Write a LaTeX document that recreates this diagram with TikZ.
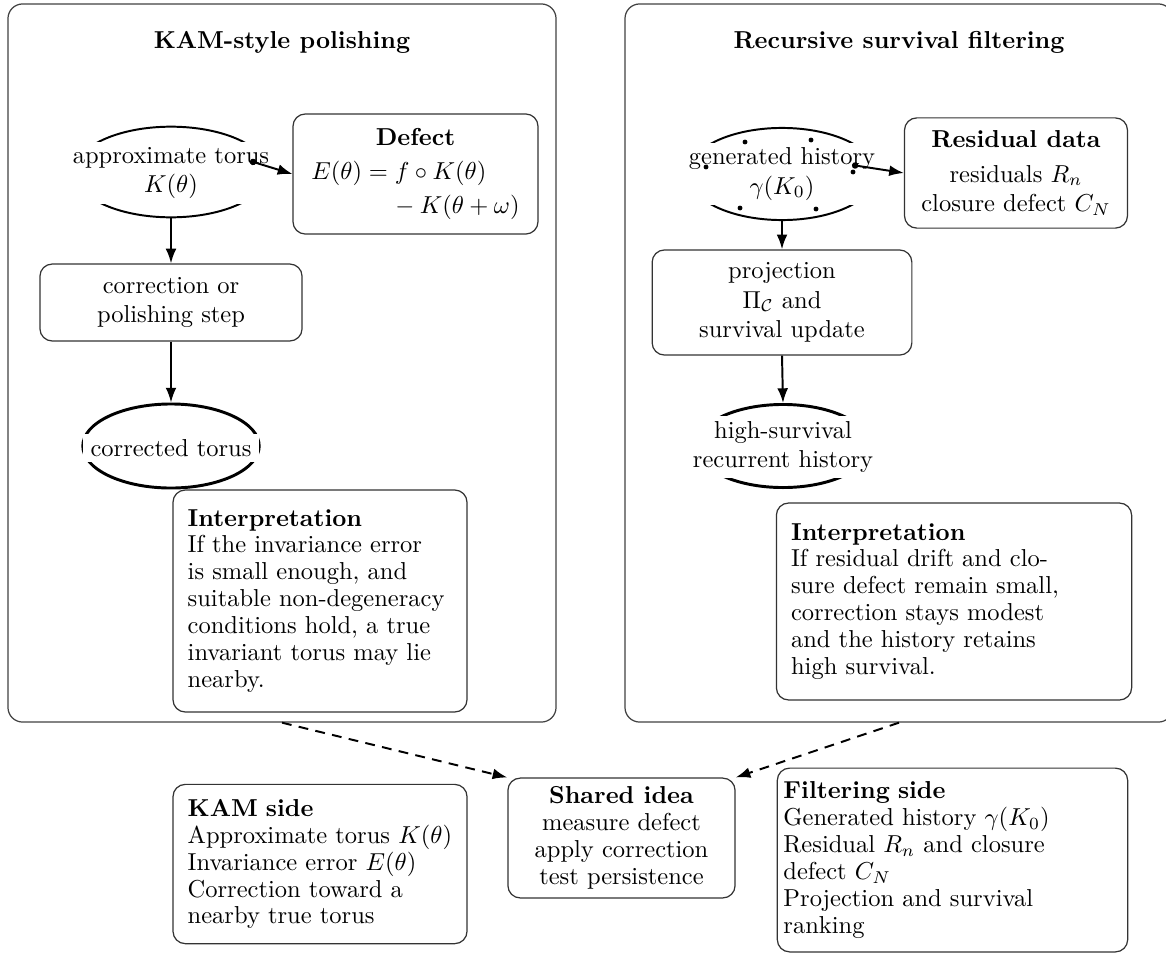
\documentclass[tikz,border=0pt]{standalone}
\usetikzlibrary{shapes.geometric,arrows.meta}
\begin{document}
\begin{tikzpicture}[x=0.40816pt,y=-0.40816pt,
  panel/.style={draw=black!75, line width=0.5pt, rounded corners=6pt,
    minimum width=223.7pt, minimum height=293.1pt, inner sep=0pt},
  box/.style={draw=black!80, line width=0.5pt, rounded corners=5pt,
    align=center, inner sep=3.5pt},
  tight/.style={font=\fontsize{10pt}{11pt}\selectfont},
  notebox/.style={box, tight, align=left, inner xsep=6pt, inner ysep=5pt},
  torus/.style={ellipse, draw, line width=0.8pt, inner sep=0pt},
  boldtorus/.style={torus, line width=1.2pt},
  torustext/.style={fill=white, align=center, inner xsep=3pt, inner ysep=2pt},
  heading/.style={font=\bfseries},
  flow/.style={-{Latex[length=6pt,width=4.4pt]}, line width=0.8pt},
  link/.style={flow, {Circle[length=2.6pt]}-{Latex[length=6pt,width=4.4pt]}},
  relate/.style={flow, dash pattern=on 4pt off 3pt},
]
\useasboundingbox (0,0) rectangle (1166,956);

% the two framed panels
\node[panel] (lp) at (282,363) {};
\node[panel] (rp) at (899,363) {};
\node[heading] (lt) at (282,42) {KAM-style polishing};
\node[heading] (rt) at (899,42) {Recursive survival filtering};

% ---- left panel: KAM-style polishing
\node[torus, minimum width=79pt, minimum height=37pt] (ate) at (171,172) {};
\node[torustext] (att) at (171,173) {approximate torus\\$K(\theta)$};
\path (ate.center) ++(79,-11) coordinate (ateout);

\node[box, minimum width=100pt, minimum height=49pt] (def) at (415.5,174)
  {\textbf{Defect}\\[2pt]
   \makebox[85pt][l]{$E(\theta)=f\circ K(\theta)$}\\[2pt]
   \makebox[85pt][r]{${}-K(\theta+\omega)$}};

\node[box, minimum width=107pt, minimum height=31.4pt] (cor) at (171,302.5)
  {correction or\\polishing step};

\node[boldtorus, minimum width=72pt, minimum height=34.3pt] (cte) at (171,446) {};
\node[torustext] (ctt) at (171,448) {corrected torus};

\node[notebox, text width=108pt, minimum height=90.6pt] (li) at (320,601)
  {\textbf{Interpretation}\\
   If the invariance error\\
   is small enough, and\\
   suitable non-degeneracy\\
   conditions hold, a true\\
   invariant torus may lie\\
   nearby.};

\draw[link] (ateout) -- (def.west);
\draw[flow] (ate.south) -- (cor.north);
\draw[flow] (cor.south) -- (cte.north);

% ---- right panel: recursive survival filtering
\node[torus, minimum width=77pt, minimum height=37.6pt] (ghe) at (782,174) {};
\node[torustext] (ght) at (782,174) {generated history\\$\gamma(K_0)$};
\foreach \dx/\dy in {-37/-32, 29/-34, -76/-7, 71/-2, -42/34, 34/35}
  \fill (ghe.center) ++(\dx,\dy) circle[radius=1pt];
\path (ghe.center) ++(70,-9) coordinate (gheout);

\node[box, minimum width=91pt, minimum height=45pt] (res) at (1016,173)
  {\textbf{Residual data}\\[2pt]residuals $R_n$\\closure defect $C_N$};

\node[box, minimum width=106pt, minimum height=42.9pt] (prj) at (782,302.5)
  {projection\\$\Pi_{\mathcal{C}}$ and\\survival update};

\node[boldtorus, minimum width=71pt, minimum height=33.9pt] (hse) at (783,446) {};
\node[torustext] (hst) at (783,447) {high-survival\\recurrent history};

\node[notebox, text width=133pt, minimum height=80.4pt] (ri) at (954,601.5)
  {\textbf{Interpretation}\\
   If residual drift and clo-\\
   sure defect remain small,\\
   correction stays modest\\
   and the history retains\\
   high survival.};

\draw[link] (gheout) -- (res.west);
\draw[flow] (ghe.south) -- (prj.north);
\draw[flow] (prj.south) -- (hse.north);

% ---- comparison row
\node[notebox, text width=108pt, minimum height=65pt] (ks) at (320,864)
  {\textbf{KAM side}\\
   Approximate torus $K(\theta)$\\
   Invariance error $E(\theta)$\\
   Correction toward a\\
   nearby true torus};

\node[box, tight, minimum width=92.7pt] (sh) at (621.5,838)
  {\textbf{Shared idea}\\measure defect\\apply correction\\test persistence};

\node[notebox, inner xsep=2.5pt, text width=138pt, minimum height=75pt] (fs) at (952.5,860)
  {\textbf{Filtering side}\\
   Generated history $\gamma(K_0)$\\
   Residual $R_n$ and closure\\
   defect $C_N$\\
   Projection and survival\\
   ranking};

\draw[relate] (lp.south) -- (sh.north west);
\draw[relate] (rp.south) -- (sh.north east);
\end{tikzpicture}
\end{document}
